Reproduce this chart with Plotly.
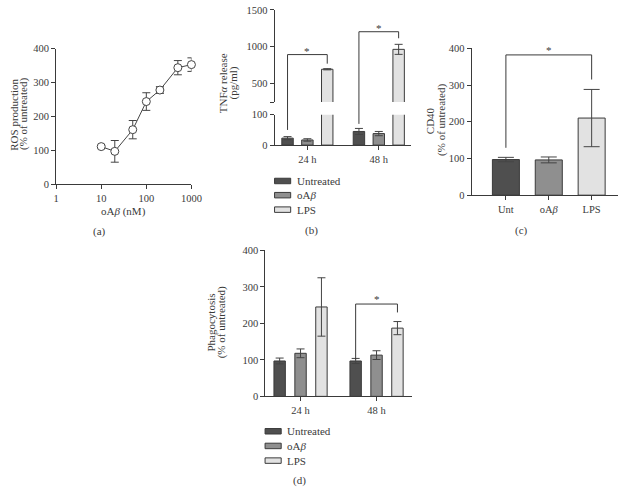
import plotly.graph_objects as go

# ---------------- data ----------------
dose_nM = [10, 20, 50, 100, 200, 500, 1000]
ros_pct = [111, 97, 161, 244, 278, 344, 353]
ros_err = [4, 32, 27, 26, 10, 21, 20]

time_groups = ["24 h", "48 h"]
treatments = ["Untreated", "oA<i>β</i>", "LPS"]
tnf_untreated = [23, 45]
tnf_untreated_err = [5, 10]
tnf_oab = [17, 38]
tnf_oab_err = [4, 7]
tnf_lps = [695, 965]
tnf_lps_err = [8, 68]

cd40_labels = ["Unt", "oA<i>β</i>", "LPS"]
cd40_pct = [97, 96, 210]
cd40_err = [6, 8, 78]

phago_untreated = [97, 97]
phago_untreated_err = [8, 7]
phago_oab = [118, 113]
phago_oab_err = [12, 12]
phago_lps = [245, 187]
phago_lps_err = [80, 18]

# ---------------- style ----------------
W, H = 632, 493
FONT = "Liberation Serif, Times New Roman, serif"
TXT = "#3a3a3a"
AX = "#3a3a3a"
COLS = ["#4f4f4f", "#8f8f8f", "#e2e2e2"]
TICKF = dict(family=FONT, size=10.5, color=TXT)


def px(x):
    return x / W


def py(y):
    return 1 - y / H


# domains in pixels (left, right) / (top, bottom)
A_X, A_Y = (54.3, 192.7), (44.7, 183.3)
B_X, B_LO, B_UP = (277.7, 417.3), (112.3, 143.3), (5.0, 99.3)
C_X, C_Y = (479.3, 629.3), (44.3, 194.5)
D_X, D_Y = (268.3, 418.3), (251.0, 400.3)

B_XR = [-0.46, 1.452]
B_LO_R = [0, 100]
B_UP_R = [250, 1500]
C_XR = [-0.798, 2.623]
D_XR = [-0.463, 1.467]

# grouped bar geometry (category units)
B_W, B_STEP = 0.16, 0.278
D_W, D_STEP = 0.15, 0.275

fig = go.Figure()

# ---------------- (a) ROS ----------------
fig.add_trace(go.Scatter(
    x=dose_nM, y=ros_pct, mode="lines+markers",
    line=dict(color="#444", width=1),
    marker=dict(symbol="circle", size=8, color="white", line=dict(color="#444", width=1)),
    error_y=dict(type="data", array=ros_err, color="#444", thickness=1, width=4),
    xaxis="x", yaxis="y", showlegend=False, cliponaxis=False))


def add_group(xa, ya, vals_list, errs_list, width, step):
    for k, (vals, errs) in enumerate(zip(vals_list, errs_list)):
        fig.add_trace(go.Bar(
            x=time_groups, y=vals, width=width, offset=-width / 2 + (k - 1) * step,
            marker=dict(color=COLS[k], line=dict(color=AX, width=1)),
            error_y=dict(type="data", array=errs, color="#444", thickness=1, width=4),
            xaxis=xa, yaxis=ya, showlegend=False, name=treatments[k]))


# ---------------- (b) TNF (broken axis) ----------------
tnf_vals = [tnf_untreated, tnf_oab, tnf_lps]
tnf_errs = [tnf_untreated_err, tnf_oab_err, tnf_lps_err]
add_group("x2", "y2", tnf_vals, tnf_errs, B_W, B_STEP)
add_group("x3", "y3", tnf_vals, tnf_errs, B_W, B_STEP)

# ---------------- (c) CD40 ----------------
fig.add_trace(go.Bar(
    x=cd40_labels, y=cd40_pct, width=0.63,
    marker=dict(color=COLS, line=dict(color=AX, width=1)),
    error_y=dict(type="data", array=cd40_err, color="#444", thickness=1, width=8),
    xaxis="x4", yaxis="y4", showlegend=False))

# ---------------- (d) Phagocytosis ----------------
add_group("x5", "y5", [phago_untreated, phago_oab, phago_lps],
          [phago_untreated_err, phago_oab_err, phago_lps_err], D_W, D_STEP)


def axis(dom, **kw):
    d = dict(domain=dom, showline=True, linecolor=AX, linewidth=1, ticks="outside",
             ticklen=4, tickwidth=1, tickcolor=AX, tickfont=TICKF, showgrid=False,
             zeroline=False, fixedrange=True)
    d.update(kw)
    return d


def xdom(p):
    return [px(p[0]), px(p[1])]


def ydom(p):
    return [py(p[1]), py(p[0])]


fig.update_layout(
    width=W, height=H, autosize=False,
    margin=dict(l=0, r=0, t=0, b=0),
    paper_bgcolor="white", plot_bgcolor="white",
    barmode="overlay",
    font=dict(family=FONT, color=TXT, size=11),
    xaxis=axis(xdom(A_X), type="log", range=[0, 3], anchor="y",
               tickvals=[1, 10, 100, 1000], ticktext=["1", "10", "100", "1000"]),
    yaxis=axis(ydom(A_Y), range=[0, 400], anchor="x", tickvals=[0, 100, 200, 300, 400]),
    xaxis2=axis(xdom(B_X), range=B_XR, anchor="y2", type="category"),
    yaxis2=axis(ydom(B_LO), range=B_LO_R, anchor="x2", tickvals=[0, 100]),
    xaxis3=axis(xdom(B_X), range=B_XR, anchor="y3", type="category", visible=False),
    yaxis3=axis(ydom(B_UP), range=B_UP_R, anchor="x3",
                tickvals=[250, 500, 1000, 1500], ticktext=["", "500", "1000", "1500"]),
    xaxis4=axis(xdom(C_X), range=C_XR, anchor="y4", type="category"),
    yaxis4=axis(ydom(C_Y), range=[0, 400], anchor="x4", tickvals=[0, 100, 200, 300, 400]),
    xaxis5=axis(xdom(D_X), range=D_XR, anchor="y5", type="category"),
    yaxis5=axis(ydom(D_Y), range=[0, 400], anchor="x5", tickvals=[0, 100, 200, 300, 400]),
)

ann = []
shapes = []


def text(x, y, s, size=11, xanchor="center", yanchor="middle", angle=0):
    ann.append(dict(x=px(x), y=py(y), xref="paper", yref="paper", text=s, showarrow=False,
                    xanchor=xanchor, yanchor=yanchor, textangle=angle,
                    font=dict(family=FONT, size=size, color=TXT)))


# axis titles
text(10.5, 112, "ROS production", angle=-90)
text(21, 112, "(% of untreated)", angle=-90)
text(123.3, 211, "oA<i>β</i> (nM)")
text(225, 80, "TNF<i>α</i> release", angle=-90)
text(235.5, 80, "(pg/ml)", angle=-90)
text(437.5, 118, "CD40", angle=-90)
text(448.5, 118, "(% of untreated)", angle=-90)
text(212.5, 325, "Phagocytosis", angle=-90)
text(223.5, 325, "(% of untreated)", angle=-90)

# panel labels
text(99, 232, "(a)")
text(315, 231, "(b)")
text(530, 231, "(c)")
text(303, 486, "(d)")


# legends
def legend(x0, ys, tx):
    for k, yc in enumerate(ys):
        shapes.append(dict(type="rect", xref="paper", yref="paper",
                           x0=px(x0), x1=px(x0 + 16.5), y0=py(yc + 2.8), y1=py(yc - 2.8),
                           fillcolor=COLS[k], line=dict(color=AX, width=1)))
        text(tx, yc, treatments[k], xanchor="left")


legend(277.7, [180, 194.5, 209.3], 298.5)
legend(268.0, [436, 451, 466], 288.0)


# significance brackets
def bx(v):
    return B_X[0] + (v - B_XR[0]) / (B_XR[1] - B_XR[0]) * (B_X[1] - B_X[0])


def by_lo(v):
    return B_LO[1] - (v - B_LO_R[0]) / (B_LO_R[1] - B_LO_R[0]) * (B_LO[1] - B_LO[0])


def by_up(v):
    return B_UP[1] - (v - B_UP_R[0]) / (B_UP_R[1] - B_UP_R[0]) * (B_UP[1] - B_UP[0])


def bracket_px(pts):
    path = "M " + " L ".join(f"{px(x):.5f},{py(y):.5f}" for x, y in pts)
    shapes.append(dict(type="path", xref="paper", yref="paper", path=path,
                       line=dict(color=AX, width=1)))


for g, (lo_start, top, right_end) in enumerate([(50, 894, 771), (70, 1204, 1115)]):
    xl = bx(g - B_STEP)
    xr = bx(g + B_STEP)
    bracket_px([(xl, by_lo(lo_start)), (xl, by_up(top)), (xr, by_up(top)), (xr, by_up(right_end))])
    text((xl + xr) / 2, by_up(top) - 4, "*", size=11)


def bracket_data(xa, ya, pts):
    path = "M " + " L ".join(f"{x},{y}" for x, y in pts)
    shapes.append(dict(type="path", xref=xa, yref=ya, path=path,
                       line=dict(color=AX, width=1)))


bracket_data("x4", "y4", [(0, 129), (0, 382), (2, 382), (2, 315)])
ann.append(dict(x=1, y=382, xref="x4", yref="y4", text="*", showarrow=False,
                yanchor="bottom", yshift=-3, font=dict(family=FONT, size=11, color=TXT)))
bracket_data("x5", "y5", [(1 - D_STEP, 101), (1 - D_STEP, 253), (1 + D_STEP, 253), (1 + D_STEP, 230)])
ann.append(dict(x=1, y=253, xref="x5", yref="y5", text="*", showarrow=False,
                yanchor="bottom", yshift=-3, font=dict(family=FONT, size=11, color=TXT)))

fig.update_layout(annotations=ann, shapes=shapes)
fig.write_html("out.html", config={"displayModeBar": False},
               post_script="document.body.style.margin='0';document.body.style.overflow='hidden';")
